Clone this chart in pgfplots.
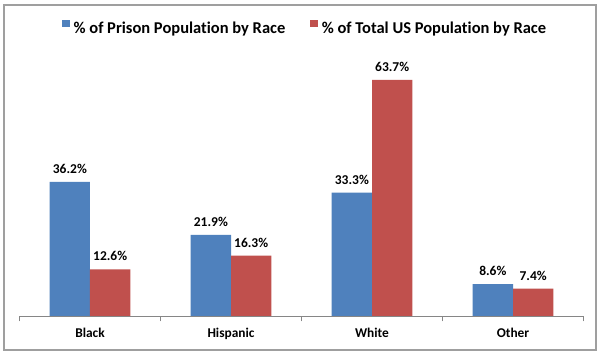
\documentclass[border=0pt]{standalone}
\usepackage{fontspec}
\setmainfont{Carlito}[Ligatures=NoCommon]
\usepackage{pgfplots}
\pgfplotsset{compat=1.18}
\definecolor{cblue}{HTML}{4F81BD}
\definecolor{cred}{HTML}{C0504D}
\definecolor{axgray}{HTML}{868686}
\begin{document}
\begin{tikzpicture}[x=1pt,y=1pt]
\fill[white] (0,0) rectangle (600,356);
\draw[line width=1.5pt, color=gray!75] (4,6) rectangle (596,351);
\begin{axis}[
  at={(19.5pt,40pt)}, anchor=south west,
  scale only axis, width=564pt, height=259.4pt,
  ymin=0, ymax=70, xmin=-0.5, xmax=3.5,
  hide y axis, axis x line*=bottom,
  x axis line style={axgray, line width=0.8pt},
  ybar=0pt, bar width=40.3pt,
  xtick={0,1,2,3}, xticklabels={Black,Hispanic,White,Other},
  major tick length=0pt,
  minor xtick={-0.5,0.5,1.5,2.5,3.5}, minor tick length=5.5pt, tick align=outside,
  tick style={axgray, line width=0.8pt},
  /pgf/number format/assume math mode=true,
  xticklabel style={font=\bfseries\fontsize{13.4}{15}\selectfont, anchor=base, yshift=-21.5pt},
  nodes near coords={\pgfmathprintnumber[fixed,fixed zerofill,precision=1]{\pgfplotspointmeta}\%},
  nodes near coords style={font=\bfseries\fontsize{13.5}{15}\selectfont, anchor=base, inner sep=0pt, yshift=8.5pt, black},
  clip=false,
  legend columns=2,
  legend style={at={(0.0753,1.114)}, anchor=west, draw=none, fill=none, inner sep=0pt,
    font=\bfseries\fontsize{16.5}{18}\selectfont,
    nodes={inner sep=0pt},
    /tikz/every odd column/.style={column sep=4pt},
    /tikz/every even column/.style={column sep=25pt}},
  legend image code/.code={\fill[#1] (0pt,1pt) rectangle (7.5pt,8.5pt);},
]
\addplot[fill=cblue, draw=none] coordinates {(0,36.2) (1,21.9) (2,33.3) (3,8.6)};
\addplot[fill=cred, draw=none] coordinates {(0,12.6) (1,16.3) (2,63.7) (3,7.4)};
\legend{\% of Prison Population by Race, \% of Total US Population by Race}
\end{axis}
\end{tikzpicture}
\end{document}
